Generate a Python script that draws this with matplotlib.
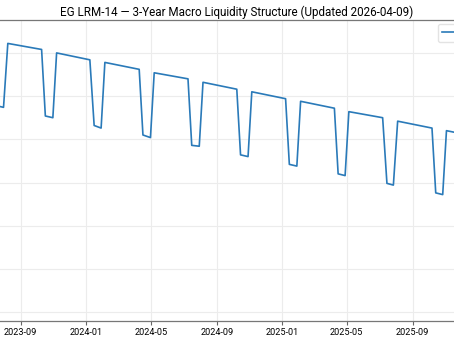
import pandas as pd
import matplotlib
matplotlib.use("Agg")
import matplotlib.pyplot as plt
import matplotlib.dates as mdates

plt.rcParams['font.family'] = ['Roboto', 'DejaVu Sans']

# --- data ---
dates = [
    "2023-04-10", "2023-04-24", "2023-05-01", "2023-07-10", "2023-07-17",
    "2023-07-31", "2023-08-08", "2023-10-10", "2023-10-17", "2023-10-31",
    "2023-11-07", "2024-01-08", "2024-01-16", "2024-01-29", "2024-02-05",
    "2024-04-09", "2024-04-16", "2024-04-30", "2024-05-07", "2024-07-09",
    "2024-07-16", "2024-07-30", "2024-08-06", "2024-10-08", "2024-10-15",
    "2024-10-29", "2024-11-05", "2025-01-07", "2025-01-14", "2025-01-28",
    "2025-02-04", "2025-04-08", "2025-04-15", "2025-04-28", "2025-05-05",
    "2025-07-07", "2025-07-15", "2025-07-27", "2025-08-04", "2025-10-07",
    "2025-10-14", "2025-10-27", "2025-11-03", "2026-01-06", "2026-01-13",
    "2026-01-27", "2026-02-03", "2026-04-07", "2026-04-09",
]
values = [
    7.52, 7.50, 8.22, 8.15, 7.39,
    7.37, 8.11, 8.04, 7.27, 7.25,
    8.00, 7.92, 7.16, 7.13, 7.89,
    7.81, 7.05, 7.02, 7.77, 7.70,
    6.93, 6.92, 7.66, 7.58, 6.82,
    6.80, 7.55, 7.47, 6.71, 6.69,
    7.44, 7.36, 6.60, 6.58, 7.32,
    7.25, 6.49, 6.47, 7.21, 7.13,
    6.38, 6.36, 7.10, 7.02, 6.26,
    6.24, 6.99, 6.91, 6.90,
]
y_ticks = [5.0, 5.5, 6.0, 6.5, 7.0, 7.5, 8.0]

df = pd.DataFrame({'date': pd.to_datetime(dates), 'value': values})

fig = plt.figure(figsize=(4.54, 3.41), dpi=100)
# the plot area is wider than the saved frame, like the reference crop
ax = fig.add_axes([-0.1892, 20 / 341, 1.4227, 301 / 341])

ax.plot(df['date'], df['value'], color='#2a7ab9', lw=1.2, label='LRM-14 Index')
ax.margins(x=0.05)
ax.set_yticks(y_ticks)
ax.set_ylim(4.897, 8.381)

ax.xaxis.set_major_locator(mdates.MonthLocator(bymonth=[1, 5, 9]))
ax.xaxis.set_major_formatter(mdates.DateFormatter('%Y-%m'))
ax.tick_params(axis='x', labelsize=6.6, length=3, color='#666666', pad=2)
ax.grid(True, color='#ececec', lw=0.8)
for side in ['top', 'bottom', 'left', 'right']:
    ax.spines[side].set_color('#777777')
    ax.spines[side].set_linewidth(0.9)

ax.set_title('EG LRM-14 \u2014 3-Year Macro Liquidity Structure (Updated 2026-04-09)',
             fontsize=8.4, pad=3)

ax.legend(loc='upper left', bbox_to_anchor=(438 / 454, 1 - 24 / 341),
          bbox_transform=fig.transFigure, fontsize=7, borderaxespad=0,
          frameon=True, edgecolor='#dddddd')

fig.savefig('out.png', dpi=100)
